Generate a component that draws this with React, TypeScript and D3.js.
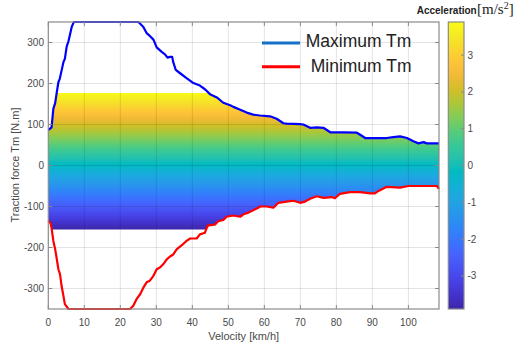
import React from 'react';
import * as d3 from 'd3';

const xTicks = [0, 10, 20, 30, 40, 50, 60, 70, 80, 90, 100];
const yTicks = [-300, -200, -100, 0, 100, 200, 300];
const cbTicks = [-3, -2, -1, 0, 1, 2, 3];

const maxV = [0, 0.5, 0.9, 1.2, 1.4, 1.9, 2.3, 2.8, 3.2, 3.7, 4.2, 4.6, 5.1, 5.6, 6.0, 6.5, 7.1, 25.0, 25.6, 26.4, 27.3, 28.2, 29.2, 30.1, 31.5, 32.4, 33.1, 33.8, 34.4, 34.7, 35.4, 36.6, 38.4, 40.3, 42.1, 43.5, 44.9, 46.8, 48.6, 50.5, 51.4, 53.3, 55.1, 56.9, 58.8, 61.6, 63.4, 65.3, 66.2, 69.9, 70.8, 72.7, 74.6, 76.4, 78.3, 82.0, 85.7, 86.6, 88.0, 91.2, 94.0, 95.8, 97.7, 99.6, 101.4, 102.8, 104.2, 105.1, 108.5];
const maxT = [87, 90, 93, 120, 138, 152, 175, 203, 212, 232, 252, 260, 290, 303, 318, 338, 350, 350, 345, 338, 323, 316, 307, 288, 277, 271, 263, 265, 265, 252, 233, 225, 213, 201, 195, 186, 174, 166, 153, 147, 143, 136, 129, 124, 122, 120, 114, 103, 102, 101, 100, 92, 93, 92, 81, 81, 80, 75, 67, 67, 67, 69, 71, 67, 59, 54, 57, 54, 54];

const minV = [0, 0.6, 0.9, 1.4, 1.9, 2.3, 2.8, 3.25, 3.7, 4.2, 4.6, 5.6, 22.7, 23.6, 24.5, 25.5, 26.4, 27.3, 28.2, 29.2, 30.1, 31.0, 31.9, 32.9, 33.8, 34.7, 35.7, 37.0, 38.4, 39.4, 41.2, 42.1, 43.5, 44.0, 44.4, 46.3, 47.2, 48.6, 49.5, 51.4, 53.3, 54.2, 55.6, 56.9, 58.3, 58.8, 60.7, 62.5, 63.9, 66.2, 68.1, 69.9, 71.3, 72.7, 74.6, 76.4, 78.7, 79.6, 81.0, 83.8, 86.6, 89.4, 90.7, 91.7, 94.0, 97.7, 100.0, 107.9, 108.5];
const minT = [-135, -140, -152, -184, -204, -225, -253, -265, -294, -318, -338, -350, -350, -342, -326, -314, -298, -285, -281, -269, -253, -249, -241, -229, -222, -217, -204, -195, -184, -178, -178, -168, -164, -152, -146, -144, -136, -133, -125, -122, -125, -119, -115, -109, -103, -100, -100, -103, -91, -88, -86, -91, -88, -81, -75, -79, -77, -80, -69, -65, -65, -68, -68, -62, -52, -54, -50, -50, -57];

const fillTop = 177;
const fillBottom = -156;

// parula colormap samples (index out of 63)
const PARULA: [number, number[]][] = [
  [0, [0.2422, 0.1504, 0.6603]],
  [3, [0.2647, 0.1978, 0.7952]],
  [6, [0.2783, 0.2559, 0.8991]],
  [9, [0.281, 0.3228, 0.9579]],
  [12, [0.2699, 0.3892, 0.9906]],
  [15, [0.2206, 0.4603, 0.9973]],
  [18, [0.1786, 0.5289, 0.9682]],
  [21, [0.154, 0.5902, 0.9218]],
  [24, [0.1248, 0.6459, 0.8883]],
  [27, [0.0689, 0.6948, 0.8394]],
  [30, [0.0067, 0.7312, 0.766]],
  [33, [0.1408, 0.7584, 0.6842]],
  [36, [0.2161, 0.7843, 0.5923]],
  [39, [0.3406, 0.8008, 0.4789]],
  [42, [0.5044, 0.7993, 0.348]],
  [45, [0.672, 0.7793, 0.2227]],
  [48, [0.8203, 0.7498, 0.1535]],
  [51, [0.9393, 0.7288, 0.21]],
  [54, [0.997, 0.7659, 0.2199]],
  [57, [0.9786, 0.8386, 0.1766]],
  [60, [0.9597, 0.9135, 0.1423]],
  [63, [0.9769, 0.9839, 0.0805]],
];
const toHex = (c: number[]) => d3.rgb(c[0] * 255, c[1] * 255, c[2] * 255).formatHex();

export default function App() {
  const W = 521, H = 348;
  const L = 48.3, R = 439, T = 22, B = 309;
  const x = d3.scaleLinear().domain([0, 108.5]).range([L, R]);
  const y = d3.scaleLinear().domain([-350, 350]).range([B, T]);
  const cbL = 448.3, cbR = 464;
  const cb = d3.scaleLinear().domain([-3.9, 3.9]).range([B, T]);

  const maxPts = maxV.map((v, i) => [v, maxT[i]] as [number, number]);
  const minPts = minV.map((v, i) => [v, minT[i]] as [number, number]);
  const line = d3.line<[number, number]>().x(d => x(d[0])).y(d => y(d[1]));
  const poly = line([...maxPts, ...minPts.slice().reverse()]) + 'Z';

  const axisColor = '#8a8a8a';
  const textColor = '#4a4a4a';
  const font = 'Liberation Sans, Arial, sans-serif';
  const tl = 4;

  return (
    <svg width={W} height={H} style={{ position: 'absolute', left: 0, top: 0, background: '#fff' }}>
      <defs>
        <linearGradient id="fillGrad" gradientUnits="userSpaceOnUse" x1={0} x2={0} y1={y(fillBottom)} y2={y(fillTop)}>
          {PARULA.map(([i, c]) => <stop key={i} offset={i / 63} stopColor={toHex(c)} />)}
        </linearGradient>
        <linearGradient id="cbGrad" gradientUnits="userSpaceOnUse" x1={0} x2={0} y1={B} y2={T}>
          {PARULA.map(([i, c]) => <stop key={i} offset={i / 63} stopColor={toHex(c)} />)}
        </linearGradient>
        <clipPath id="fillClip">
          <rect x={L} y={y(fillTop)} width={R - L} height={y(fillBottom) - y(fillTop)} />
        </clipPath>
        <clipPath id="plotClip">
          <rect x={L - 2} y={T - 2} width={R - L + 4} height={B - T + 4} />
        </clipPath>
      </defs>

      <path d={poly} fill="url(#fillGrad)" clipPath="url(#fillClip)" />

      {xTicks.filter(t => t > 0).map(t => (
        <line key={'gx' + t} x1={x(t)} x2={x(t)} y1={T} y2={B} stroke="rgba(0,0,0,0.11)" strokeWidth={1} />
      ))}
      {yTicks.map(t => (
        <line key={'gy' + t} x1={L} x2={R} y1={y(t)} y2={y(t)} stroke="rgba(0,0,0,0.11)" strokeWidth={1} />
      ))}

      <g clipPath="url(#plotClip)">
        <path d={line(maxPts) || ''} fill="none" stroke="#0000ff" strokeWidth={2.2} strokeLinejoin="round" />
        <path d={line(minPts) || ''} fill="none" stroke="#ff0000" strokeWidth={2.2} strokeLinejoin="round" />
      </g>

      <rect x={L} y={T} width={R - L} height={B - T} fill="none" stroke={axisColor} strokeWidth={1.2} />
      {xTicks.map(t => (
        <g key={'tx' + t}>
          <line x1={x(t)} x2={x(t)} y1={B} y2={B - tl} stroke={axisColor} />
          <line x1={x(t)} x2={x(t)} y1={T} y2={T + tl} stroke={axisColor} />
          <text x={x(t)} y={325.5} textAnchor="middle" fontFamily={font} fontSize={10} fill={textColor}>{t}</text>
        </g>
      ))}
      {yTicks.map(t => (
        <g key={'ty' + t}>
          <line x1={L} x2={L + tl} y1={y(t)} y2={y(t)} stroke={axisColor} />
          <line x1={R} x2={R - tl} y1={y(t)} y2={y(t)} stroke={axisColor} />
          <text x={44} y={y(t)} dy="0.35em" textAnchor="end" fontFamily={font} fontSize={10} fill={textColor}>{t}</text>
        </g>
      ))}

      <text x={(L + R) / 2} y={340} textAnchor="middle" fontFamily={font} fontSize={11} fill={textColor}>Velocity [km/h]</text>
      <text transform={`translate(18.5,${165}) rotate(-90)`} textAnchor="middle" fontFamily={font} fontSize={11} fill={textColor}>Traction force Tm [N.m]</text>

      {/* legend */}
      <line x1={262} x2={300} y1={43} y2={43} stroke="#1570c8" strokeWidth={3} />
      <text x={305.7} y={47} fontFamily={font} fontSize={17.5} fill="#222">Maximum Tm</text>
      <line x1={262} x2={300} y1={66.7} y2={66.7} stroke="#ff0000" strokeWidth={3} />
      <text x={310.7} y={72} fontFamily={font} fontSize={17.5} fill="#222">Minimum Tm</text>

      {/* colorbar */}
      <rect x={cbL} y={T} width={cbR - cbL} height={B - T} fill="url(#cbGrad)" stroke={axisColor} strokeWidth={1.2} />
      {cbTicks.map(t => (
        <g key={'cb' + t}>
          <line x1={cbR} x2={cbR - 3} y1={cb(t)} y2={cb(t)} stroke={axisColor} />
          <text x={467.5} y={cb(t)} dy="0.35em" fontFamily={font} fontSize={10} fill={textColor}>{t}</text>
        </g>
      ))}
      <text x={416.7} y={14} fontFamily={font} fontSize={10} fontWeight="bold" fill="#222">Acceleration</text>
      <text x={477} y={14} fontFamily="Liberation Serif, DejaVu Serif, serif" fontSize={15} fill="#222">
        [m/s<tspan dy={-5} fontSize={10}>2</tspan><tspan dy={5}>]</tspan>
      </text>
    </svg>
  );
}
